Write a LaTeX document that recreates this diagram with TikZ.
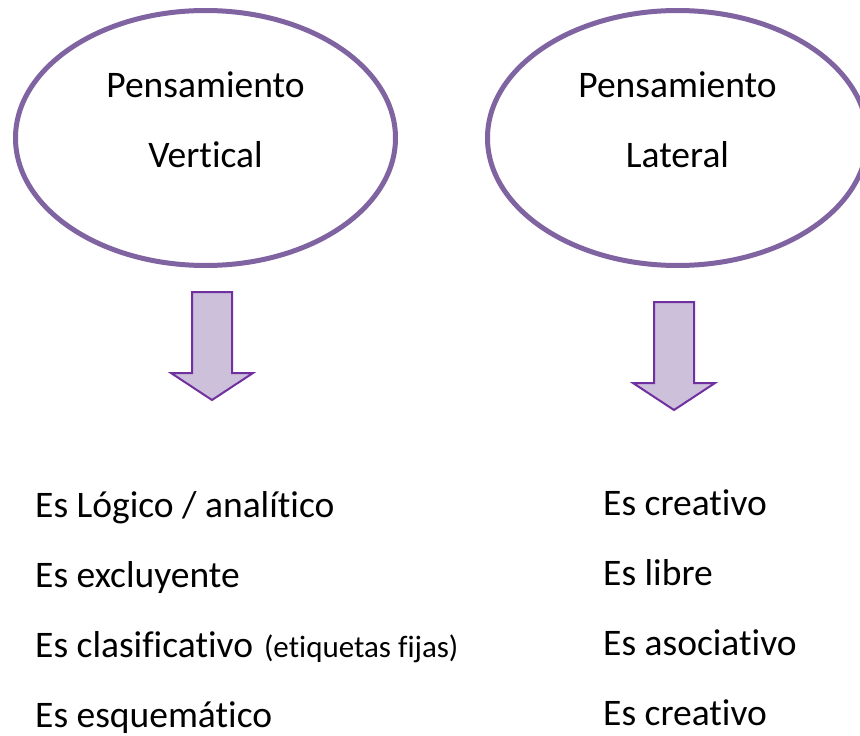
\documentclass[tikz,border=0pt]{standalone}
\usepackage{fontspec}
\setmainfont[Ligatures=NoCommon]{Carlito}
\usetikzlibrary{shapes.geometric}
\definecolor{ovalline}{RGB}{128,100,162}
\definecolor{arrowline}{RGB}{112,48,160}
\definecolor{arrowfill}{RGB}{204,192,218}
\tikzset{
  oval/.style={ellipse, draw=ovalline, line width=5pt, fill=white,
               minimum width=380pt, minimum height=255pt, inner sep=0pt},
  ovaltext/.style={anchor=base, font=\fontsize{37.5}{44}\selectfont},
  blockarrow/.style={draw=arrowline, line width=2pt, fill=arrowfill, line join=miter},
  item/.style={anchor=base west, inner sep=0pt, font=\fontsize{37.5}{44}\selectfont}
}
\begin{document}
\begin{tikzpicture}[x=1pt, y=-1pt]
\useasboundingbox (0,0) rectangle (860,736);
\clip (0,0) rectangle (860,736);
% the two ovals
\node[oval] (vertical) at (205.5,138) {};
\node[ovaltext] (vertA) at (205.5,97) {Pensamiento};
\node[ovaltext] (vertB) at (205.5,167) {Vertical};

\node[oval] (lateral) at (677.5,138) {};
\node[ovaltext] (latA) at (677.5,97) {Pensamiento};
\node[ovaltext] (latB) at (677.5,167) {Lateral};

% block arrows
\draw[blockarrow] (192,292) -- (232,292) -- (232,373) -- (253,373)
  -- (212,400) -- (171,373) -- (192,373) -- cycle;
\draw[blockarrow] (654,302) -- (694,302) -- (694,383) -- (715,383)
  -- (674,410) -- (633,383) -- (654,383) -- cycle;

% left list
\node[item] (logico) at (35,517) {Es Lógico / analítico};
\node[item] (excluye) at (35,587) {Es excluyente};
\node[item] (clasif) at (35,657) {Es clasificativo\hspace{11pt}{\fontsize{31}{36}\selectfont(etiquetas fijas)}};
\node[item] (esquema) at (35,727) {Es esquemático};

% right list
\node[item] (creativo) at (603,515) {Es creativo};
\node[item] (libre) at (603,585) {Es libre};
\node[item] (asocia) at (603,655) {Es asociativo};
\node[item] (creativoB) at (603,725) {Es creativo};
\end{tikzpicture}
\end{document}
